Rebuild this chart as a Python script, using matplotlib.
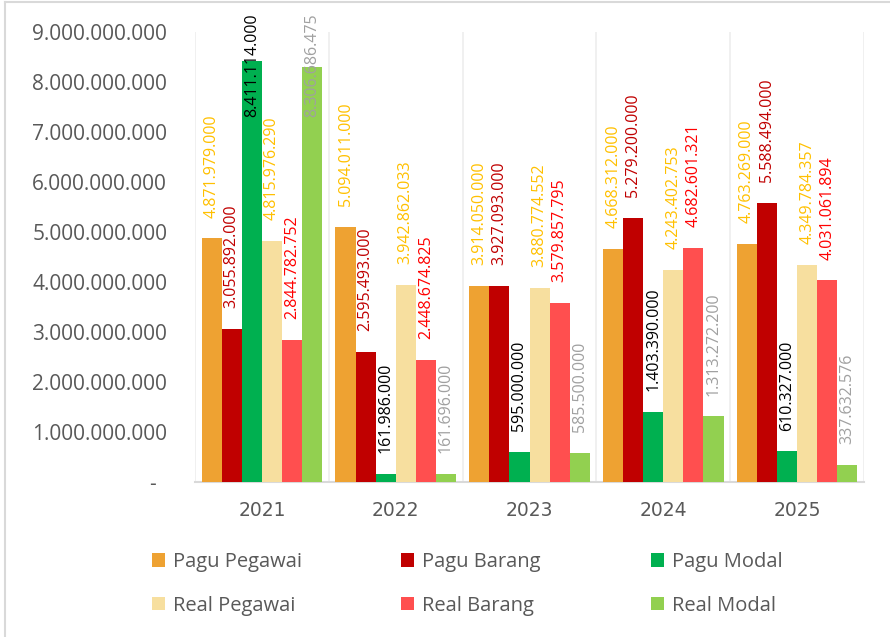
import matplotlib
matplotlib.use("Agg")
import matplotlib.pyplot as plt
from matplotlib.lines import Line2D
from matplotlib.patches import Patch
import numpy as np

plt.rcParams['font.family'] = ['Open Sans', 'DejaVu Sans']

# data
years = ['2021', '2022', '2023', '2024', '2025']
series_names = ['Pagu Pegawai', 'Pagu Barang', 'Pagu Modal',
                'Real Pegawai', 'Real Barang', 'Real Modal']
pagu_pegawai = [4871979000, 5094011000, 3914050000, 4668312000, 4763269000]
pagu_barang = [3055892000, 2595493000, 3927093000, 5279200000, 5588494000]
pagu_modal = [8411114000, 161986000, 595000000, 1403390000, 610327000]
real_pegawai = [4815976290, 3942862033, 3880774552, 4243402753, 4349784357]
real_barang = [2844782752, 2448674825, 3579857795, 4682601321, 4031061894]
real_modal = [8306686475, 161696000, 585500000, 1313272200, 337632576]

all_series = [pagu_pegawai, pagu_barang, pagu_modal,
              real_pegawai, real_barang, real_modal]
bar_colors = ['#EEA232', '#C00000', '#00B050', '#F7DF9F', '#FF4F4F', '#92D050']
label_colors = ['#FFC000', '#C00000', '#000000', '#FFC000', '#FF0000', '#A0A0A0']


def fmt(v):
    if v == 0:
        return '-  '
    return f"{int(v):,}".replace(',', '.')


W, H = 890, 637
fig = plt.figure(figsize=(W / 100, H / 100), dpi=100)
ax = fig.add_axes([195 / W, 1 - 482 / H, 669 / W, 450 / H])

x = np.arange(len(years))
bw = 0.15
texts = []
for i, vals in enumerate(all_series):
    pos = x + (i - 2.5) * bw
    ax.bar(pos, vals, width=bw, color=bar_colors[i], edgecolor='none', zorder=3)
    for px, v in zip(pos, vals):
        t = ax.annotate(fmt(v), xy=(px, v), xytext=(0, 15), textcoords='offset points',
                        rotation=90, ha='center', va='bottom', fontsize=11.5,
                        color=label_colors[i], zorder=5, annotation_clip=False)
        texts.append(t)

ax.set_xlim(-0.5, len(years) - 0.5)
ax.set_ylim(0, 9e9)
ax.set_yticks(np.arange(0, 9.5e9, 1e9))
ax.set_yticklabels([fmt(v) for v in np.arange(0, 9.5e9, 1e9)])
ax.set_xticks(x)
ax.set_xticklabels(years, family=['DejaVu Sans'])
ax.tick_params(axis='y', length=0, pad=20, labelsize=15, labelcolor='#595959')
ax.tick_params(axis='x', length=0, pad=14, labelsize=13.5, labelcolor='#595959')

# vertical grid at category centers and boundaries
ax.set_xticks(np.arange(-0.5, len(years), 0.5), minor=True)
ax.tick_params(axis='x', which='minor', length=0)
ax.grid(axis='x', which='minor', color='#EDEDED', linewidth=1.2, zorder=0)
for s in ['top', 'right', 'left']:
    ax.spines[s].set_visible(False)
ax.spines['bottom'].set_color('#D9D9D9')
ax.spines['bottom'].set_linewidth(1.5)

# keep tall labels inside the chart area
fig.canvas.draw()
renderer = fig.canvas.get_renderer()
for t in texts:
    bb = t.get_window_extent(renderer)
    top_limit = H - 13
    if bb.y1 > top_limit:
        shift = (bb.y1 - top_limit) * 72 / 100
        ox, oy = t.xyann
        t.xyann = (ox, oy - shift)

# legend: three columns, two rows
col_x = [152, 401, 651]
for c in range(3):
    handles = [Patch(facecolor=bar_colors[c], edgecolor='none'),
               Patch(facecolor=bar_colors[c + 3], edgecolor='none')]
    fig.legend(handles, [series_names[c], series_names[c + 3]],
               loc='upper left', bbox_to_anchor=(col_x[c] / W, 1 - 552 / H),
               frameon=False, fontsize=14.5, labelcolor='#595959',
               handlelength=0.65, handleheight=0.65, handletextpad=0.4,
               labelspacing=1.18, borderpad=0, borderaxespad=0)

# chart border
fig.add_artist(Line2D([5 / W, 5 / W], [0, 1 - 2 / H], transform=fig.transFigure,
                      color='#D9D9D9', linewidth=1.5))
fig.add_artist(Line2D([5 / W, 1], [1 - 2 / H, 1 - 2 / H], transform=fig.transFigure,
                      color='#D9D9D9', linewidth=1.5))

fig.savefig('out.png', dpi=100)
